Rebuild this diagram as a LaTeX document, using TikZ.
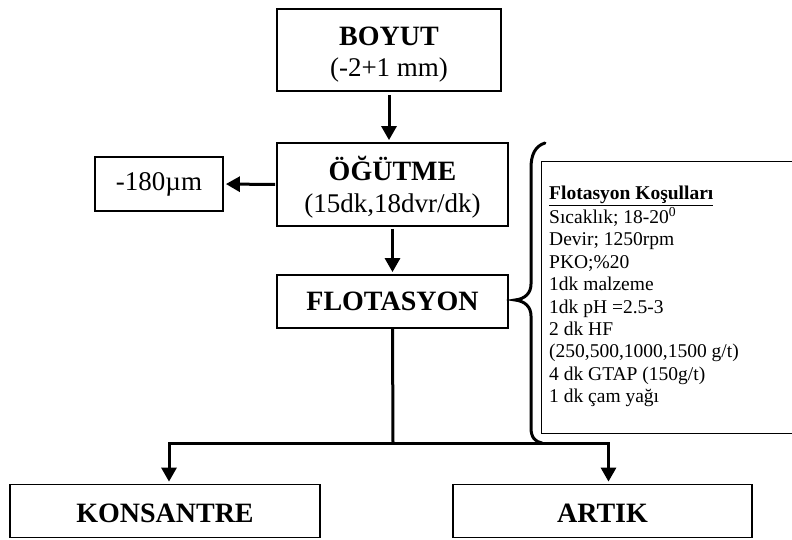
\documentclass[tikz,border=0pt]{standalone}
\usepackage{fontspec}
\setmainfont{Liberation Serif}
\usetikzlibrary{arrows.meta}

\tikzset{
  box/.style={draw, line width=1.8pt, inner sep=0pt, align=center,
    font=\fontsize{27}{31}\selectfont},
  title/.style={font=\fontsize{28}{31}\selectfont\bfseries},
  flow/.style={line width=3pt},
  flowarrow/.style={line width=3pt, -{Triangle[width=15pt,length=14pt]},
    shorten >=2pt},
  infobox/.style={draw, line width=1.3pt, inner sep=0pt},
  bracepath/.style={line width=3pt, line cap=round},
}
\newcommand{\boxtitle}[1]{{\fontsize{28}{31}\selectfont\bfseries #1}}
% move a line of box text down without changing the box size
\newcommand{\lowered}[2]{\raisebox{-#1}[\height][\depth]{#2}}

\begin{document}
\begin{tikzpicture}[x=1pt, y=-1pt]
\useasboundingbox (0,0) rectangle (792,539);

% process boxes
\node[box, minimum width=224pt, minimum height=82pt] (boyut) at (389,50)
  {\lowered{5pt}{\boxtitle{BOYUT}}\\\lowered{5pt}{(-2+1 mm)}};
\node[box, minimum width=231pt, minimum height=83pt] (ogutme) at (392.5,184.5)
  {\lowered{2pt}{\boxtitle{ÖĞÜTME}}\\\lowered{3pt}{(15dk,18dvr/dk)}};
\node[box, minimum width=128pt, minimum height=54pt] (elek) at (159,184)
  {-180µm};
\node[box, title, minimum width=231pt, minimum height=53pt] (flot) at (392.5,301.5)
  {FLOTASYON};
\node[box, title, minimum width=310pt, minimum height=53pt] (kons) at (165,511)
  {\lowered{2pt}{KONSANTRE}};
\node[box, title, minimum width=299pt, minimum height=53pt] (artik) at (602.5,511)
  {\lowered{2pt}{ARTIK}};

% flotation conditions
\node[infobox, minimum width=262pt, minimum height=272pt, anchor=north west]
  (kosul) at (541,161) {};
\node[anchor=north west, inner sep=0pt, align=left,
  font=\fontsize{19.5}{22.4}\selectfont] (kosultext) at (549,186)
  {\underline{\textbf{Flotasyon Koşulları}}\\
   Sıcaklık; 18-20\textsuperscript{0}\\
   Devir; 1250rpm\\
   PKO;\%20\\
   1dk malzeme\\
   1dk pH =2.5-3\\
   2 dk HF\\
   (250,500,1000,1500 g/t)\\
   4 dk GTAP (150g/t)\\
   1 dk çam yağı};

% brace grouping the conditions
\draw[bracepath] (545,143) .. controls (535,146) and (531,155) .. (531,168)
  -- (531,284) .. controls (531,293) and (525,299) .. (515,300)
  .. controls (525,301) and (531,307) .. (531,316)
  -- (531,428) .. controls (531,437) and (535,442) .. (542,443);

% connectors
\draw[flowarrow, shorten <=3pt] (boyut.south) -- (boyut.south |- ogutme.north);
\draw[flowarrow, shorten <=1pt] (ogutme.west) -- (elek.east);
\draw[flowarrow, shorten <=2pt] (ogutme.south) -- (ogutme.south |- flot.north);
\coordinate (split) at (393,443);
\draw[flow] (flot.south) -- (split);
\draw[flowarrow] (split) -| ([xshift=4pt]kons.north);
\draw[flowarrow] (split) -| ([xshift=6pt]artik.north);
\end{tikzpicture}
\end{document}
